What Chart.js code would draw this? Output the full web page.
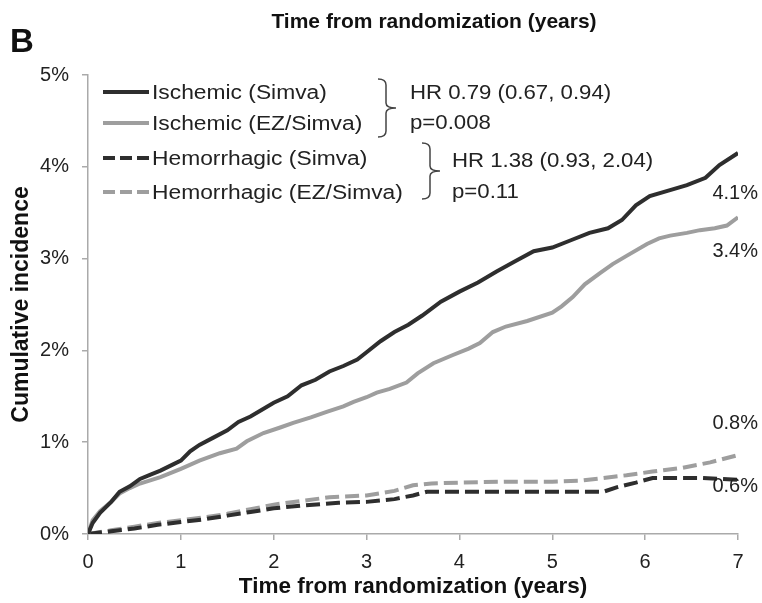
<!DOCTYPE html>
<html>
<head>
<meta charset="utf-8">
<script src="https://cdn.jsdelivr.net/npm/chart.js@4.4.0/dist/chart.umd.min.js"></script>
<style>
  html, body { margin: 0; padding: 0; background: #fff; }
</style>
</head>
<body>
<canvas id="grafica" width="762" height="603"></canvas>
<script>
// Datos (años, % acumulado)
const tIsqSimva = [0, 0.05, 0.13, 0.25, 0.34, 0.45, 0.56, 0.68, 0.78, 0.9, 1.0, 1.1, 1.2, 1.35, 1.5, 1.62, 1.75, 1.85, 2.0, 2.15, 2.3, 2.45, 2.6, 2.75, 2.9, 3.0, 3.15, 3.3, 3.45, 3.6, 3.8, 4.0, 4.2, 4.4, 4.6, 4.8, 5.0, 5.2, 5.4, 5.6, 5.75, 5.9, 6.05, 6.25, 6.45, 6.65, 6.8, 7.0];
const isqSimva = [0, 0.12, 0.23, 0.35, 0.46, 0.52, 0.6, 0.65, 0.69, 0.75, 0.8, 0.9, 0.97, 1.05, 1.13, 1.22, 1.28, 1.34, 1.43, 1.5, 1.62, 1.68, 1.77, 1.83, 1.9, 1.98, 2.1, 2.2, 2.28, 2.38, 2.53, 2.64, 2.74, 2.86, 2.97, 3.08, 3.12, 3.2, 3.28, 3.33, 3.42, 3.58, 3.68, 3.74, 3.8, 3.88, 4.02, 4.15];

const tIsqEz = [0, 0.05, 0.13, 0.25, 0.34, 0.45, 0.56, 0.78, 1.0, 1.2, 1.42, 1.6, 1.71, 1.89, 2.07, 2.21, 2.4, 2.57, 2.75, 2.86, 3.0, 3.11, 3.25, 3.43, 3.55, 3.72, 3.93, 4.1, 4.22, 4.36, 4.5, 4.73, 5.0, 5.1, 5.22, 5.35, 5.51, 5.65, 5.8, 6.02, 6.15, 6.27, 6.45, 6.59, 6.75, 6.88, 7.0];
const isqEz = [0, 0.15, 0.25, 0.35, 0.44, 0.5, 0.55, 0.62, 0.71, 0.8, 0.88, 0.93, 1.01, 1.1, 1.16, 1.21, 1.27, 1.33, 1.39, 1.44, 1.49, 1.54, 1.58, 1.65, 1.75, 1.86, 1.95, 2.02, 2.08, 2.2, 2.26, 2.32, 2.41, 2.48, 2.58, 2.72, 2.84, 2.94, 3.03, 3.16, 3.22, 3.25, 3.28, 3.31, 3.33, 3.36, 3.45];

const tHemSimva = [0, 0.25, 0.5, 0.75, 1.0, 1.25, 1.5, 1.75, 2.0, 2.3, 2.7, 3.0, 3.3, 3.5, 3.65, 4.0, 4.5, 5.0, 5.55, 5.7, 5.9, 6.08, 6.3, 6.6, 6.8, 7.0];
const hemSimva = [0, 0.03, 0.06, 0.1, 0.13, 0.16, 0.2, 0.24, 0.28, 0.31, 0.34, 0.35, 0.38, 0.42, 0.46, 0.46, 0.46, 0.46, 0.46, 0.51, 0.56, 0.61, 0.61, 0.61, 0.6, 0.59];

const tHemEz = [0, 0.25, 0.5, 0.75, 1.0, 1.25, 1.5, 1.75, 2.0, 2.3, 2.6, 3.0, 3.3, 3.5, 3.7, 4.0, 4.5, 5.0, 5.3, 5.55, 5.8, 6.08, 6.4, 6.7, 7.0];
const hemEz = [0, 0.04, 0.08, 0.12, 0.15, 0.18, 0.22, 0.27, 0.32, 0.36, 0.4, 0.42, 0.47, 0.53, 0.55, 0.56, 0.57, 0.57, 0.58, 0.61, 0.64, 0.68, 0.72, 0.78, 0.86];

const etiquetas = ['Ischemic (Simva)', 'Ischemic (EZ/Simva)', 'Hemorrhagic (Simva)', 'Hemorrhagic (EZ/Simva)'];
const etiquetasFinales = ['4.1%', '3.4%', '0.6%', '0.8%'];
const textoHR = [['HR 0.79 (0.67, 0.94)', 'p=0.008'], ['HR 1.38 (0.93, 2.04)', 'p=0.11']];

const oscuro = '#2e2e2e';
const claro = '#9e9e9e';
const fuente = "'Liberation Sans', Arial, sans-serif";

function pares(t, v) {
    return t.map((x, i) => ({ x: x, y: v[i] }));
}

const datasets = [
    { label: etiquetas[0], data: pares(tIsqSimva, isqSimva), borderColor: oscuro, borderWidth: 4, borderDash: [] },
    { label: etiquetas[1], data: pares(tIsqEz, isqEz), borderColor: claro, borderWidth: 4, borderDash: [] },
    { label: etiquetas[2], data: pares(tHemSimva, hemSimva), borderColor: oscuro, borderWidth: 4, borderDash: [14, 6] },
    { label: etiquetas[3], data: pares(tHemEz, hemEz), borderColor: claro, borderWidth: 4, borderDash: [14, 6] }
];

// texto un poco estirado a lo ancho, como en la figura original
function texto(ctx, str, x, y, sx) {
    ctx.save();
    ctx.translate(x, y);
    ctx.scale(sx, 1);
    ctx.fillText(str, 0, 0);
    ctx.restore();
}

// Dibuja titulo, leyenda, llaves y etiquetas finales
const extras = {
    id: 'extras',
    afterDraw(chart) {
        const ctx = chart.ctx;
        const area = chart.chartArea;
        const ys = chart.scales.y;
        ctx.save();
        ctx.fillStyle = '#111';
        ctx.textBaseline = 'middle';

        ctx.font = 'bold 21px ' + fuente;
        ctx.textAlign = 'center';
        ctx.fillText('Time from randomization (years)', 434, 22);

        ctx.font = 'bold 33px ' + fuente;
        ctx.textAlign = 'left';
        ctx.fillText('B', 10, 43);

        // leyenda
        const filas = [92, 123, 158, 192];
        ctx.font = '20px ' + fuente;
        datasets.forEach((ds, i) => {
            ctx.strokeStyle = ds.borderColor;
            ctx.lineWidth = 4;
            ctx.setLineDash(ds.borderDash.length ? [12, 5] : []);
            ctx.beginPath();
            ctx.moveTo(103, filas[i]);
            ctx.lineTo(149, filas[i]);
            ctx.stroke();
            ctx.setLineDash([]);
            ctx.fillStyle = '#222';
            texto(ctx, ds.label, 152, filas[i] + 1, 1.14);
        });

        // llaves
        function llave(x, y0, y1) {
            const mid = (y0 + y1) / 2;
            ctx.beginPath();
            ctx.moveTo(x, y0);
            ctx.quadraticCurveTo(x + 8, y0, x + 8, y0 + 6);
            ctx.lineTo(x + 8, mid - 5);
            ctx.quadraticCurveTo(x + 8, mid, x + 18, mid);
            ctx.quadraticCurveTo(x + 8, mid, x + 8, mid + 5);
            ctx.lineTo(x + 8, y1 - 6);
            ctx.quadraticCurveTo(x + 8, y1, x, y1);
            ctx.stroke();
        }
        ctx.strokeStyle = '#444';
        ctx.lineWidth = 1.5;
        llave(378, 79, 137);
        llave(422, 143, 199);

        ctx.fillStyle = '#222';
        texto(ctx, textoHR[0][0], 410, 93, 1.11);
        texto(ctx, textoHR[0][1], 410, 123, 1.11);
        texto(ctx, textoHR[1][0], 452, 161, 1.11);
        texto(ctx, textoHR[1][1], 452, 192, 1.11);

        // etiquetas al final de cada curva
        const desplaz = [40, 34, 7, -32];
        ctx.textAlign = 'right';
        ctx.font = '20px ' + fuente;
        datasets.forEach((ds, i) => {
            const ult = ds.data[ds.data.length - 1].y;
            ctx.fillText(etiquetasFinales[i], area.right + 20, ys.getPixelForValue(ult) + desplaz[i]);
        });
        ctx.restore();
    }
};

const ctx = document.getElementById('grafica').getContext('2d');

window.myChart = new Chart(ctx, {
    type: 'line',
    data: { datasets: datasets },
    options: {
        responsive: false,
        animation: false,
        layout: { padding: { top: 75, right: 24, left: 0, bottom: 0 } },
        elements: { point: { radius: 0 }, line: { tension: 0, borderCapStyle: 'butt' } },
        plugins: { legend: { display: false }, tooltip: { enabled: false } },
        scales: {
            x: {
                type: 'linear', min: 0, max: 7,
                ticks: { stepSize: 1, color: '#222', font: { size: 20, family: fuente }, padding: 10 },
                grid: { drawOnChartArea: false, drawTicks: true, tickLength: 6, color: '#aaa', lineWidth: 1.5 },
                border: { color: '#aaa', width: 1.5 },
                title: { display: true, text: 'Time from randomization (years)', color: '#111', font: { size: 22.5, weight: 'bold', family: fuente }, padding: { top: 0, bottom: 3 } },
                afterFit(s) { s.height = 69; }
            },
            y: {
                min: 0, max: 5,
                ticks: { stepSize: 1, color: '#222', font: { size: 20, family: fuente }, padding: 13, callback: v => v + '%' },
                grid: { drawOnChartArea: false, drawTicks: true, tickLength: 6, color: '#aaa', lineWidth: 1.5 },
                border: { color: '#aaa', width: 1.5 },
                title: { display: true, text: 'Cumulative incidence', color: '#111', font: { size: 23, weight: 'bold', family: fuente }, padding: { top: 8, bottom: 0 } },
                afterFit(s) { s.width = 88; }
            }
        }
    },
    plugins: [extras]
});
</script>
</body>
</html>
